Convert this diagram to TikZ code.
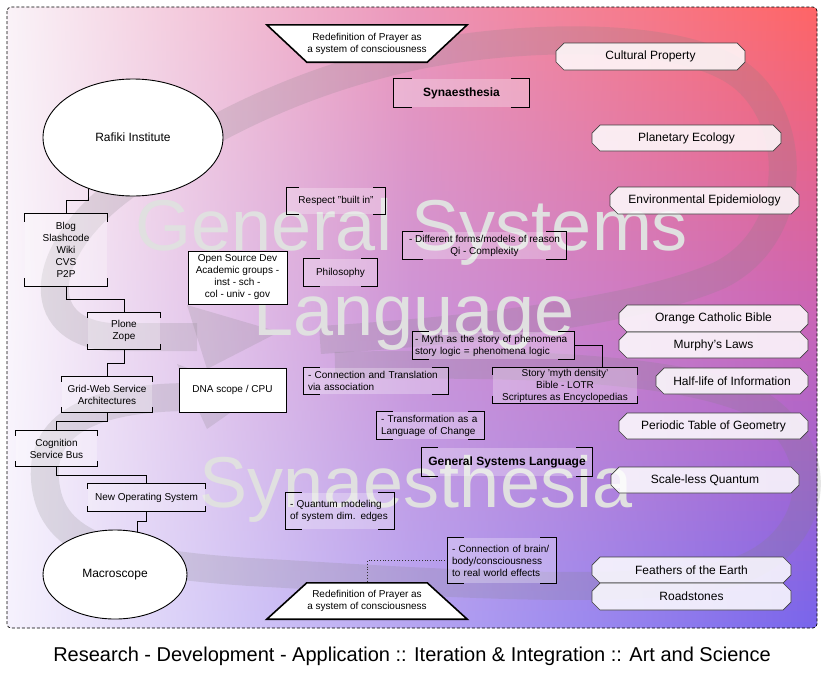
\documentclass[tikz,border=0pt]{standalone}
\usepackage{fontspec}
\setmainfont{Liberation Sans}
\usetikzlibrary{shapes.misc,shapes.geometric,calc}
\pgfdeclarelayer{back}
\pgfdeclarelayer{conn}
\pgfsetlayers{back,conn,main}
\definecolor{TL}{RGB}{250,243,248}
\definecolor{ML}{RGB}{250,246,252}
\definecolor{BL}{RGB}{246,242,253}
\definecolor{TM}{RGB}{236,150,185}
\definecolor{MM}{RGB}{205,148,215}
\definecolor{BM}{RGB}{182,165,242}
\definecolor{TR}{RGB}{255,100,100}
\definecolor{MR}{RGB}{202,100,182}
\definecolor{BR}{RGB}{120,100,235}
\newcommand\vbrk[2][16]{%
 \draw[brk] ([xshift=#1]#2.north west) -- (#2.north west) -- (#2.south west) -- ([xshift=#1]#2.south west);
 \draw[brk] ([xshift=-#1]#2.north east) -- (#2.north east) -- (#2.south east) -- ([xshift=-#1]#2.south east);}
\newcommand\hbrk[2][5]{%
 \draw[brk] ([yshift=-#1]#2.north west) -- (#2.north west) -- (#2.north east) -- ([yshift=-#1]#2.north east);
 \draw[brk] ([yshift=#1]#2.south west) -- (#2.south west) -- (#2.south east) -- ([yshift=#1]#2.south east);}
\begin{document}
\begin{tikzpicture}[x=1pt,y=-1pt,
 t10/.style={font=\fontsize{10}{12}\selectfont},
 bx/.style={inner sep=0pt, align=center, t10},
 brbox/.style={bx, fill=white, fill opacity=0.28, text opacity=1},
 plain/.style={bx, draw=black, line width=0.9pt, fill=white},
 oval/.style={ellipse, draw=black, line width=0.9pt, fill=white, inner sep=0pt, font=\fontsize{12}{14}\selectfont},
 pill/.style={chamfered rectangle, chamfered rectangle xsep=4pt, chamfered rectangle ysep=4pt, draw=black!75, line width=0.7pt, fill=white, fill opacity=0.85, text opacity=1, inner sep=0pt, font=\fontsize{12}{14}\selectfont, minimum width=189, minimum height=27},
 boldt/.style={font=\fontsize{12}{14}\selectfont\bfseries},
 brk/.style={draw=black, line width=0.9pt},
 wire/.style={draw=black, line width=0.9pt},
 dotwire/.style={draw=black!80, line width=0.8pt, dotted},
 trap/.style={draw=black, line width=1.6pt, fill=white, line join=miter},
 swirl/.style={line width=28pt, draw=black!50, draw opacity=0.2},
 swirlfill/.style={fill=black!50, fill opacity=0.2},
 wm/.style={font=\fontsize{72}{72}\selectfont, text=black!12, inner sep=0pt, anchor=base},
]
\useasboundingbox (0,0) rectangle (832,678);
\begin{pgfonlayer}{back}
 \fill[white] (0,0) rectangle (832,678);
 \begin{scope}
 \clip[rounded corners=4] (7,7) rectangle (817,628);
 \foreach \i in {0,...,31} {
   \pgfmathsetmacro\u{100*\i/31}
   \pgfmathsetmacro\yy{7+\i*10.0161}
   \colorlet{cl}{ML!\u!TL}\colorlet{cm}{MM!\u!TM}\colorlet{cr}{MR!\u!TR}
   \shade[left color=cl, right color=cr, middle color=cm] (5,{\yy-6}) rectangle (819,{\yy+6});
 }
 \foreach \i in {1,...,31} {
   \pgfmathsetmacro\u{100*\i/31}
   \pgfmathsetmacro\yy{317.5+\i*10.0161}
   \colorlet{cl}{BL!\u!ML}\colorlet{cm}{BM!\u!MM}\colorlet{cr}{BR!\u!MR}
   \shade[left color=cl, right color=cr, middle color=cm] (5,{\yy-6}) rectangle (819,{\yy+6});
 }
 \end{scope}
 % swirl band A
 \draw[swirl] (320,340) .. controls (480,330) and (640,310) .. (720,275)
   .. controls (800,235) and (800,120) .. (740,75)
   .. controls (680,30) and (520,35) .. (420,55)
   .. controls (300,80) and (200,130) .. (120,190)
   .. controls (40,250) and (30,330) .. (110,337) -- (197,337);
 \fill[swirlfill] (187,305) -- (279,332) -- (207,369) -- cycle;
 % swirl band B
 \draw[swirl] (335,366) .. controls (500,362) and (680,365) .. (760,405)
   .. controls (830,450) and (820,540) .. (740,570)
   .. controls (650,600) and (400,580) .. (250,572)
   .. controls (100,562) and (50,540) .. (45,480)
   .. controls (40,420) and (100,397) .. (192,397);
 \fill[swirlfill] (177,364) -- (257,394) -- (207,429) -- cycle;
 % watermark
 \node[wm] (wm1) at (412,250) {General Systems};
 \node[wm] (wm2) at (414,335) {Language};
 \node[wm] (wm3) at (416,507) {Synaesthesia};
\end{pgfonlayer}

% nodes
\node[oval, minimum width=180, minimum height=117] (raf) at (133,137.5) {Rafiki Institute};
\node[brbox, minimum width=82, minimum height=72] (blog) at (66,250) {Blog\\Slashcode\\Wiki\\CVS\\P2P};
\node[brbox, minimum width=72, minimum height=36] (plone) at (124,331) {Plone\\Zope};
\node[brbox, minimum width=90, minimum height=35] (grid) at (107,394.5) {Grid-Web Service\\Architectures};
\node[brbox, minimum width=81, minimum height=35] (cog) at (56.5,448.5) {Cognition\\Service Bus};
\node[brbox, minimum width=117, minimum height=27] (newos) at (146.5,497.5) {New Operating System};
\node[oval, minimum width=144, minimum height=89] (macro) at (115,574.5) {Macroscope};
\node[plain, minimum width=99, minimum height=53] (osd) at (237.5,277.5) {Open Source Dev\\Academic groups -\\inst - sch -\\col - univ - gov};
\node[plain, minimum width=107, minimum height=44] (dna) at (232.5,390) {DNA scope / CPU};
\node[brbox, minimum width=98, minimum height=26] (resp) at (336,201) {Respect "built in"};
\node[brbox, minimum width=73, minimum height=27] (philo) at (340.5,272.5) {Philosophy};
\node[brbox, boldt, minimum width=135, minimum height=28] (syn) at (461.5,93) {Synaesthesia};
\node[brbox, minimum width=163, minimum height=27] (diff) at (484.5,245.5) {- Different forms/models of reason\\Qi - Complexity};
\node[brbox, minimum width=161, minimum height=27, text width=157, align=left] (myth) at (493.5,345.5) {- Myth as the story of phenomena\\story logic = phenomena logic};
\node[brbox, minimum width=144, minimum height=35] (story) at (565,385.5) {Story 'myth density'\\Bible - LOTR\\Scriptures as Encyclopedias};
\node[brbox, minimum width=144, minimum height=26, text width=136, align=left] (conn) at (376,381) {- Connection and Translation\\via association};
\node[brbox, minimum width=107, minimum height=27, text width=99, align=left] (trans) at (430.5,425.5) {- Transformation as a\\Language of Change};
\node[brbox, boldt, minimum width=170, minimum height=28] (gsl) at (507,462) {General Systems Language};
\node[brbox, minimum width=108, minimum height=36, text width=100, align=left] (quant) at (340,511) {- Quantum modeling\\of system dim. edges};
\node[brbox, minimum width=108, minimum height=45, text width=100, align=left] (brain) at (502,560.5) {- Connection of brain/\\body/consciousness\\to real world effects};
\node[bx, minimum width=200, minimum height=37] (ptop) at (367,43.5) {Redefinition of Prayer as\\a system of consciousness};
\node[bx, minimum width=200, minimum height=36] (pbot) at (367,601) {Redefinition of Prayer as\\a system of consciousness};

\node[pill] (cult) at (650.5,56.5) {Cultural Property};
\node[pill, minimum height=26] (plan) at (686.5,138) {Planetary Ecology};
\node[pill] (env) at (704.5,200.5) {Environmental Epidemiology};
\node[pill] (ocb) at (713.5,318.5) {Orange Catholic Bible};
\node[pill, minimum height=26] (murph) at (713.5,345) {Murphy's Laws};
\node[pill, minimum width=152, minimum height=26] (half) at (732,381) {Half-life of Information};
\node[pill, minimum height=26] (peri) at (713.5,426) {Periodic Table of Geometry};
\node[pill, minimum width=188, minimum height=26] (scale) at (705,480) {Scale-less Quantum};
\node[pill, minimum width=199, minimum height=26] (feath) at (691.5,570) {Feathers of the Earth};
\node[pill, minimum width=199, minimum height=27] (road) at (691.5,596.5) {Roadstones};

\node[font=\fontsize{20}{24}\selectfont, anchor=base, inner sep=0pt] (cap) at (412,661) {Research - Development - Application :: Iteration \& Integration :: Art and Science};

% brackets
\hbrk[8]{blog}
\hbrk{plone}
\hbrk{grid}
\hbrk{cog}
\hbrk{newos}
\hbrk[7]{story}
\vbrk[12]{resp}
\vbrk{philo}
\vbrk[18]{syn}
\vbrk[20]{diff}
\vbrk{myth}
\vbrk{conn}
\vbrk{trans}
\vbrk{gsl}
\vbrk{quant}
\vbrk{brain}

\begin{pgfonlayer}{conn}
 \draw[trap] (ptop.north west) -- (ptop.north east) -- ([xshift=-40]ptop.south east) -- ([xshift=40]ptop.south west) -- cycle;
 \draw[trap] ([xshift=40]pbot.north west) -- ([xshift=-40]pbot.north east) -- (pbot.south east) -- (pbot.south west) -- cycle;
 \draw[wire] (blog.north) -- ++(0,-13) -| ([xshift=-45,yshift=10]raf.south);
 \draw[wire] (blog.south) -- ++(0,13) -| (plone.north);
 \draw[wire] (plone.south) -- ++(0,14) -| (grid.north);
 \draw[wire] (grid.south) -- ++(0,9) -| (cog.north);
 \draw[wire] (cog.south) -- ++(0,9) -| (newos.north);
 \draw[wire] (newos.south) -- ++(0,10) -| ([xshift=22,yshift=-6]macro.north);
 \draw[wire] (myth.east) -| ([xshift=37]story.north);
 \draw[dotwire] (brain.west) -| (pbot.north);
\end{pgfonlayer}

\draw[dashed, line width=0.7pt, dash pattern=on 3pt off 2pt, rounded corners=4] (7,7) rectangle (817,628);
\end{tikzpicture}
\end{document}
